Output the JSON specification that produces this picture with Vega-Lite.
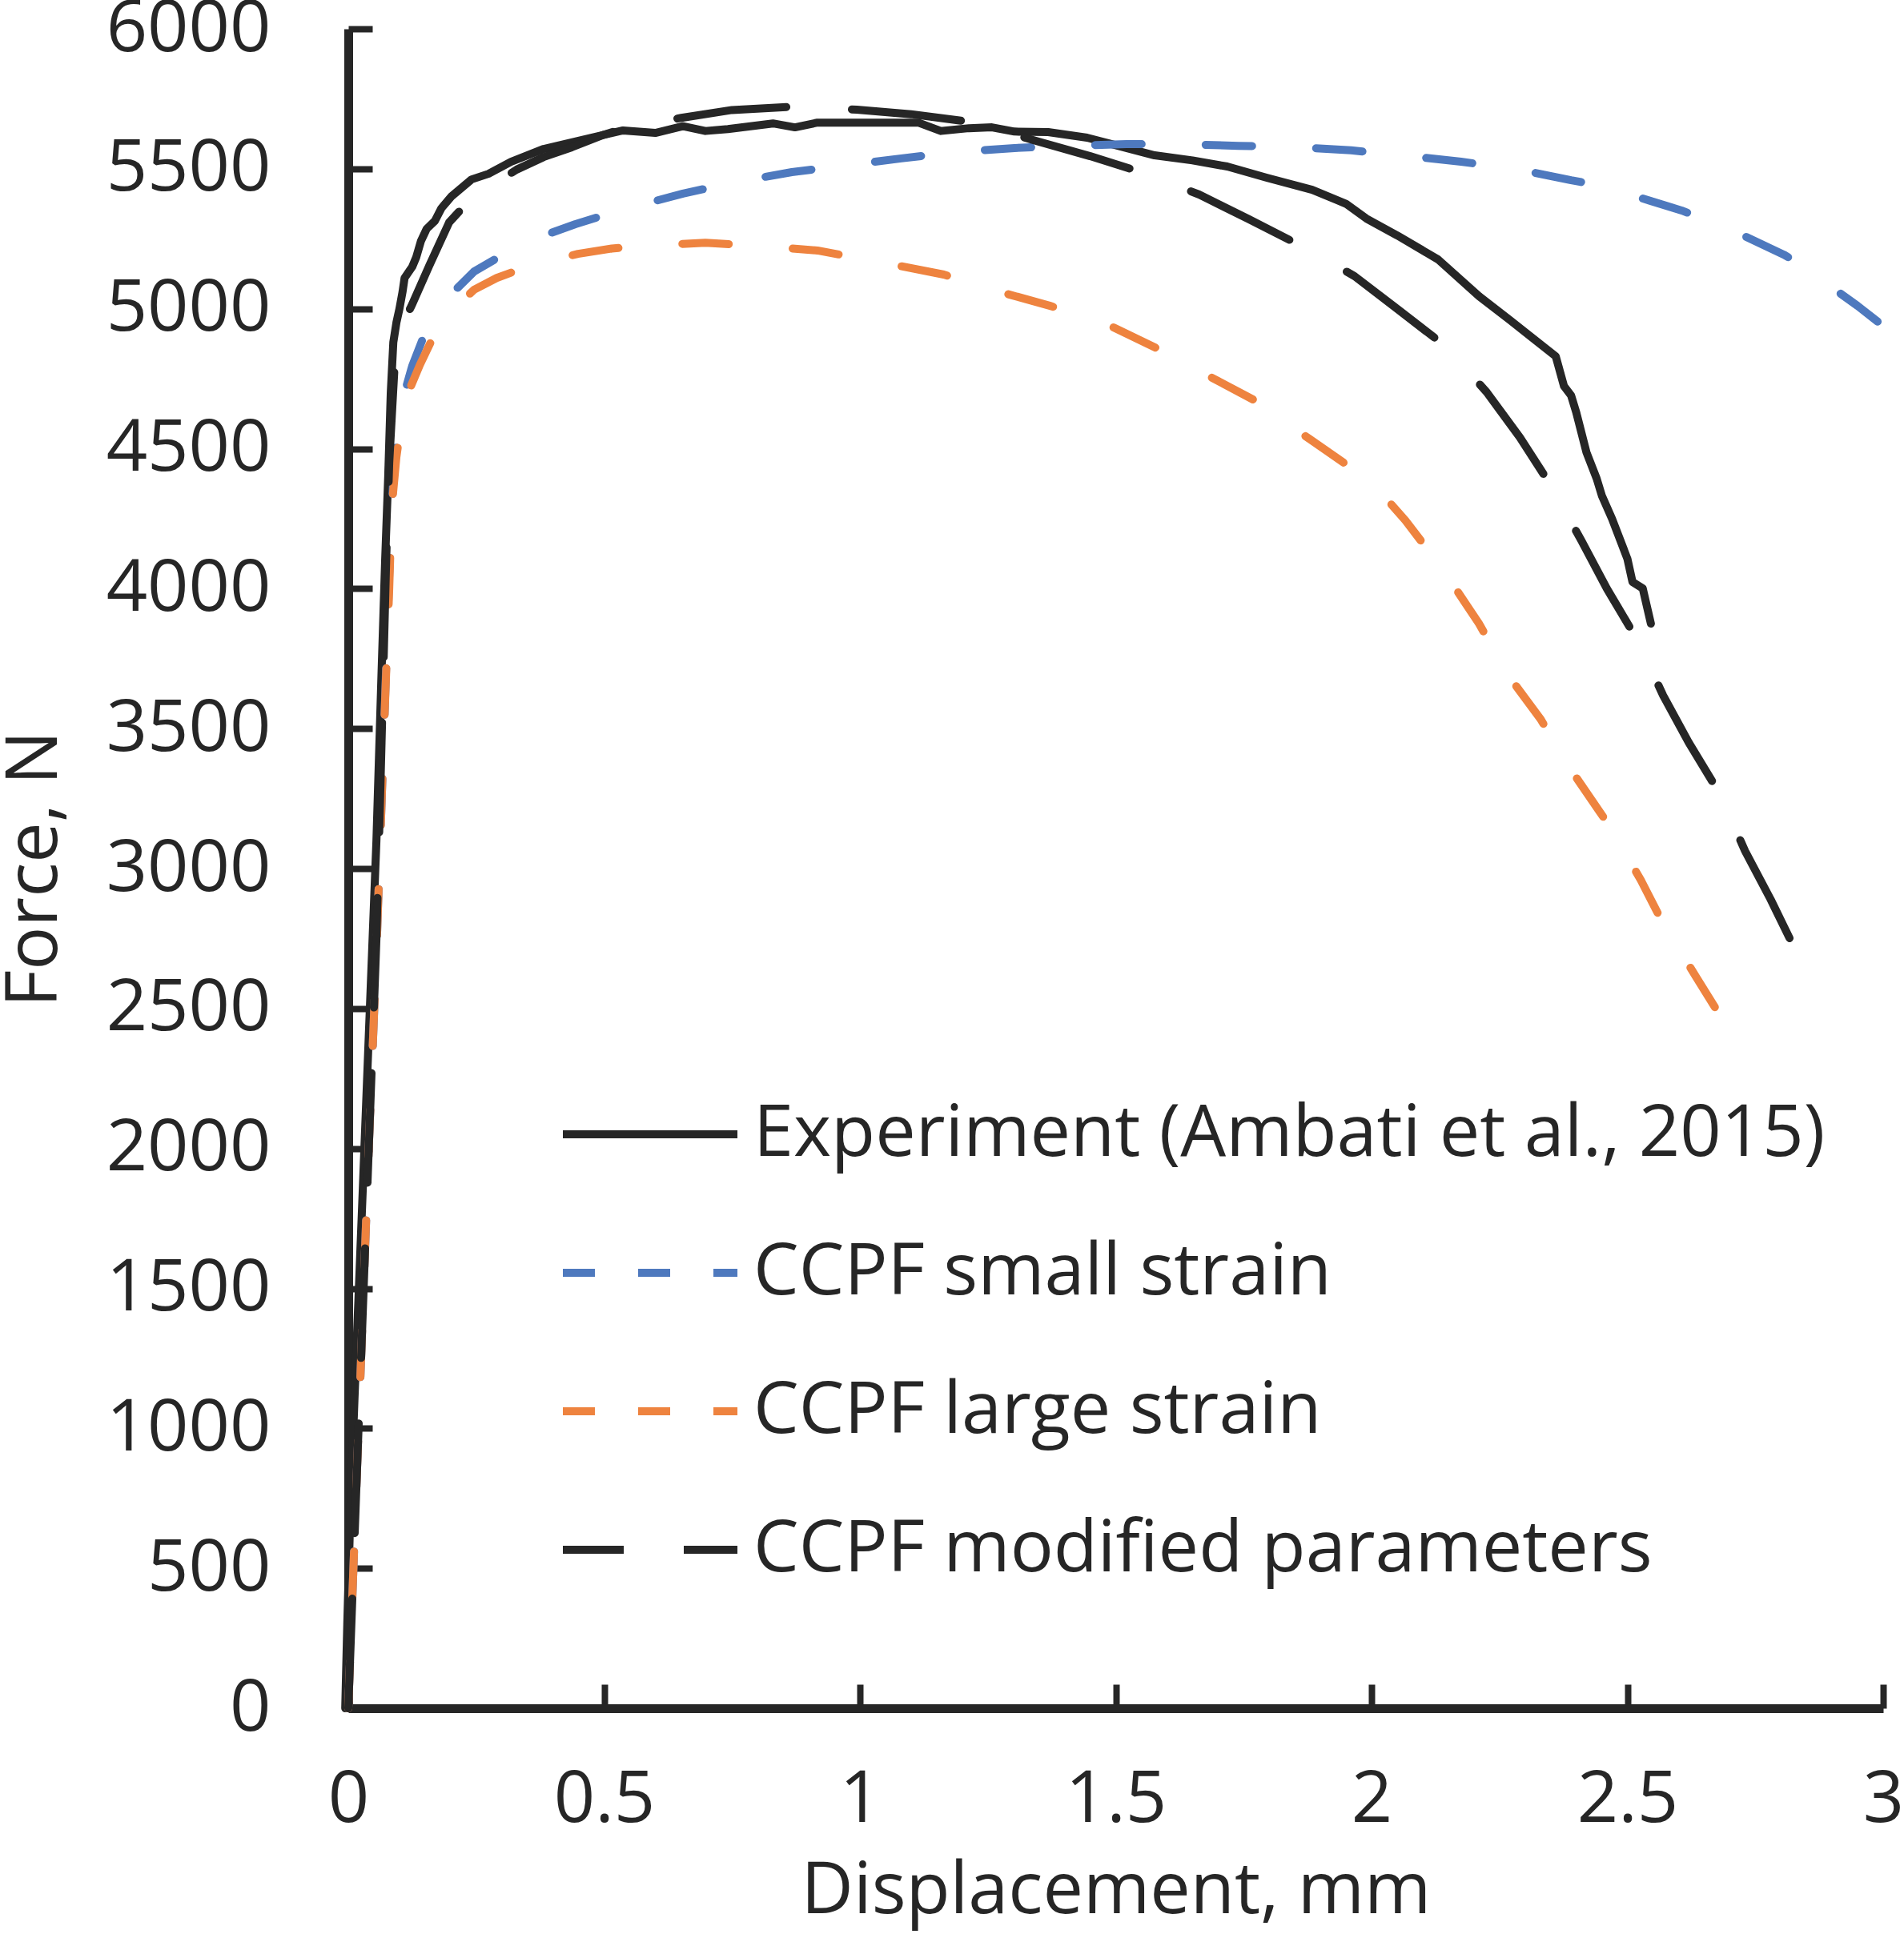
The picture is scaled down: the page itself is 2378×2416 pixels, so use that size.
{
  "$schema": "https://vega.github.io/schema/vega-lite/v6.json",
  "autosize": {"type": "none"},
  "padding": {"left": 435, "top": 36, "right": 26, "bottom": 282},
  "width": 1917,
  "height": 2098,
  "background": "white",
  "config": {
    "font": "Open Sans",
    "view": {"stroke": null},
    "line": {"strokeWidth": 10, "strokeCap": "round", "strokeJoin": "round", "clip": false},
    "axis": {
      "grid": false,
      "domainColor": "#262626",
      "domainWidth": 11,
      "tickColor": "#262626",
      "tickWidth": 8,
      "tickSize": -30,
      "labelColor": "#262626",
      "labelFontSize": 90,
      "labelFont": "Open Sans",
      "labelFlush": false,
      "labelOverlap": false,
      "labelLimit": 1000,
      "titleColor": "#262626",
      "titleFontSize": 90,
      "titleFont": "Open Sans",
      "titleFontWeight": "normal"
    },
    "legend": {
      "orient": "none",
      "legendX": 263,
      "legendY": 1331,
      "padding": 0,
      "symbolType": "stroke",
      "symbolSize": 47524,
      "symbolStrokeWidth": 10,
      "labelFontSize": 90,
      "labelFont": "Open Sans",
      "labelColor": "#262626",
      "labelOffset": 15,
      "labelLimit": 2000,
      "rowPadding": 73,
      "clipHeight": 100
    }
  },
  "data": {
    "values": [
      {"s": "Experiment (Ambati et al., 2015)", "d": -0.006, "F": 0},
      {"s": "Experiment (Ambati et al., 2015)", "d": -0.002, "F": 300},
      {"s": "Experiment (Ambati et al., 2015)", "d": 0.004, "F": 700},
      {"s": "Experiment (Ambati et al., 2015)", "d": 0.012, "F": 1100},
      {"s": "Experiment (Ambati et al., 2015)", "d": 0.025, "F": 1700},
      {"s": "Experiment (Ambati et al., 2015)", "d": 0.04, "F": 2400},
      {"s": "Experiment (Ambati et al., 2015)", "d": 0.055, "F": 3100},
      {"s": "Experiment (Ambati et al., 2015)", "d": 0.065, "F": 3700},
      {"s": "Experiment (Ambati et al., 2015)", "d": 0.072, "F": 4100},
      {"s": "Experiment (Ambati et al., 2015)", "d": 0.078, "F": 4400},
      {"s": "Experiment (Ambati et al., 2015)", "d": 0.083, "F": 4700},
      {"s": "Experiment (Ambati et al., 2015)", "d": 0.088, "F": 4880},
      {"s": "Experiment (Ambati et al., 2015)", "d": 0.094, "F": 4950},
      {"s": "Experiment (Ambati et al., 2015)", "d": 0.1, "F": 5000},
      {"s": "Experiment (Ambati et al., 2015)", "d": 0.106, "F": 5060},
      {"s": "Experiment (Ambati et al., 2015)", "d": 0.11, "F": 5110},
      {"s": "Experiment (Ambati et al., 2015)", "d": 0.125, "F": 5150},
      {"s": "Experiment (Ambati et al., 2015)", "d": 0.133, "F": 5185},
      {"s": "Experiment (Ambati et al., 2015)", "d": 0.142, "F": 5242},
      {"s": "Experiment (Ambati et al., 2015)", "d": 0.153, "F": 5285},
      {"s": "Experiment (Ambati et al., 2015)", "d": 0.169, "F": 5313},
      {"s": "Experiment (Ambati et al., 2015)", "d": 0.182, "F": 5359},
      {"s": "Experiment (Ambati et al., 2015)", "d": 0.202, "F": 5402},
      {"s": "Experiment (Ambati et al., 2015)", "d": 0.241, "F": 5462},
      {"s": "Experiment (Ambati et al., 2015)", "d": 0.274, "F": 5482},
      {"s": "Experiment (Ambati et al., 2015)", "d": 0.318, "F": 5525},
      {"s": "Experiment (Ambati et al., 2015)", "d": 0.382, "F": 5571},
      {"s": "Experiment (Ambati et al., 2015)", "d": 0.45, "F": 5600},
      {"s": "Experiment (Ambati et al., 2015)", "d": 0.537, "F": 5637},
      {"s": "Experiment (Ambati et al., 2015)", "d": 0.6, "F": 5628},
      {"s": "Experiment (Ambati et al., 2015)", "d": 0.654, "F": 5652},
      {"s": "Experiment (Ambati et al., 2015)", "d": 0.698, "F": 5635},
      {"s": "Experiment (Ambati et al., 2015)", "d": 0.742, "F": 5642},
      {"s": "Experiment (Ambati et al., 2015)", "d": 0.83, "F": 5662},
      {"s": "Experiment (Ambati et al., 2015)", "d": 0.873, "F": 5648},
      {"s": "Experiment (Ambati et al., 2015)", "d": 0.917, "F": 5665},
      {"s": "Experiment (Ambati et al., 2015)", "d": 1.114, "F": 5665},
      {"s": "Experiment (Ambati et al., 2015)", "d": 1.158, "F": 5635},
      {"s": "Experiment (Ambati et al., 2015)", "d": 1.213, "F": 5645},
      {"s": "Experiment (Ambati et al., 2015)", "d": 1.258, "F": 5648},
      {"s": "Experiment (Ambati et al., 2015)", "d": 1.302, "F": 5633},
      {"s": "Experiment (Ambati et al., 2015)", "d": 1.368, "F": 5631},
      {"s": "Experiment (Ambati et al., 2015)", "d": 1.444, "F": 5611},
      {"s": "Experiment (Ambati et al., 2015)", "d": 1.488, "F": 5590},
      {"s": "Experiment (Ambati et al., 2015)", "d": 1.576, "F": 5548},
      {"s": "Experiment (Ambati et al., 2015)", "d": 1.65, "F": 5530},
      {"s": "Experiment (Ambati et al., 2015)", "d": 1.718, "F": 5508},
      {"s": "Experiment (Ambati et al., 2015)", "d": 1.795, "F": 5468},
      {"s": "Experiment (Ambati et al., 2015)", "d": 1.884, "F": 5425},
      {"s": "Experiment (Ambati et al., 2015)", "d": 1.95, "F": 5375},
      {"s": "Experiment (Ambati et al., 2015)", "d": 1.99, "F": 5322},
      {"s": "Experiment (Ambati et al., 2015)", "d": 2.05, "F": 5262},
      {"s": "Experiment (Ambati et al., 2015)", "d": 2.13, "F": 5176},
      {"s": "Experiment (Ambati et al., 2015)", "d": 2.21, "F": 5045},
      {"s": "Experiment (Ambati et al., 2015)", "d": 2.27, "F": 4960},
      {"s": "Experiment (Ambati et al., 2015)", "d": 2.31, "F": 4902},
      {"s": "Experiment (Ambati et al., 2015)", "d": 2.36, "F": 4830},
      {"s": "Experiment (Ambati et al., 2015)", "d": 2.376, "F": 4724},
      {"s": "Experiment (Ambati et al., 2015)", "d": 2.39, "F": 4690},
      {"s": "Experiment (Ambati et al., 2015)", "d": 2.4, "F": 4630},
      {"s": "Experiment (Ambati et al., 2015)", "d": 2.42, "F": 4487},
      {"s": "Experiment (Ambati et al., 2015)", "d": 2.44, "F": 4393},
      {"s": "Experiment (Ambati et al., 2015)", "d": 2.45, "F": 4333},
      {"s": "Experiment (Ambati et al., 2015)", "d": 2.47, "F": 4250},
      {"s": "Experiment (Ambati et al., 2015)", "d": 2.5, "F": 4107},
      {"s": "Experiment (Ambati et al., 2015)", "d": 2.51, "F": 4024},
      {"s": "Experiment (Ambati et al., 2015)", "d": 2.53, "F": 4001},
      {"s": "Experiment (Ambati et al., 2015)", "d": 2.546, "F": 3875},

      {"s": "CCPF small strain", "d": 0, "F": 0},
      {"s": "CCPF small strain", "d": 0.02, "F": 1000},
      {"s": "CCPF small strain", "d": 0.04, "F": 2000},
      {"s": "CCPF small strain", "d": 0.055, "F": 2700},
      {"s": "CCPF small strain", "d": 0.07, "F": 3500},
      {"s": "CCPF small strain", "d": 0.08, "F": 4050},
      {"s": "CCPF small strain", "d": 0.088, "F": 4400},
      {"s": "CCPF small strain", "d": 0.097, "F": 4579},
      {"s": "CCPF small strain", "d": 0.11, "F": 4700},
      {"s": "CCPF small strain", "d": 0.125, "F": 4796},
      {"s": "CCPF small strain", "d": 0.145, "F": 4890},
      {"s": "CCPF small strain", "d": 0.169, "F": 4959},
      {"s": "CCPF small strain", "d": 0.2, "F": 5050},
      {"s": "CCPF small strain", "d": 0.246, "F": 5133},
      {"s": "CCPF small strain", "d": 0.29, "F": 5180},
      {"s": "CCPF small strain", "d": 0.329, "F": 5216},
      {"s": "CCPF small strain", "d": 0.38, "F": 5260},
      {"s": "CCPF small strain", "d": 0.444, "F": 5302},
      {"s": "CCPF small strain", "d": 0.537, "F": 5355},
      {"s": "CCPF small strain", "d": 0.654, "F": 5411},
      {"s": "CCPF small strain", "d": 0.753, "F": 5451},
      {"s": "CCPF small strain", "d": 0.867, "F": 5488},
      {"s": "CCPF small strain", "d": 0.967, "F": 5511},
      {"s": "CCPF small strain", "d": 1.081, "F": 5537},
      {"s": "CCPF small strain", "d": 1.186, "F": 5560},
      {"s": "CCPF small strain", "d": 1.302, "F": 5574},
      {"s": "CCPF small strain", "d": 1.405, "F": 5582},
      {"s": "CCPF small strain", "d": 1.521, "F": 5588},
      {"s": "CCPF small strain", "d": 1.626, "F": 5588},
      {"s": "CCPF small strain", "d": 1.74, "F": 5582},
      {"s": "CCPF small strain", "d": 1.845, "F": 5578},
      {"s": "CCPF small strain", "d": 1.96, "F": 5566},
      {"s": "CCPF small strain", "d": 2.06, "F": 5548},
      {"s": "CCPF small strain", "d": 2.175, "F": 5525},
      {"s": "CCPF small strain", "d": 2.28, "F": 5500},
      {"s": "CCPF small strain", "d": 2.39, "F": 5459},
      {"s": "CCPF small strain", "d": 2.449, "F": 5440},
      {"s": "CCPF small strain", "d": 2.49, "F": 5416},
      {"s": "CCPF small strain", "d": 2.606, "F": 5351},
      {"s": "CCPF small strain", "d": 2.696, "F": 5288},
      {"s": "CCPF small strain", "d": 2.806, "F": 5193},
      {"s": "CCPF small strain", "d": 2.851, "F": 5145},
      {"s": "CCPF small strain", "d": 2.887, "F": 5093},
      {"s": "CCPF small strain", "d": 2.95, "F": 5010},
      {"s": "CCPF small strain", "d": 2.992, "F": 4950},

      {"s": "CCPF large strain", "d": 0, "F": 0},
      {"s": "CCPF large strain", "d": 0.02, "F": 1000},
      {"s": "CCPF large strain", "d": 0.04, "F": 2000},
      {"s": "CCPF large strain", "d": 0.055, "F": 2700},
      {"s": "CCPF large strain", "d": 0.07, "F": 3500},
      {"s": "CCPF large strain", "d": 0.08, "F": 4000},
      {"s": "CCPF large strain", "d": 0.085, "F": 4293},
      {"s": "CCPF large strain", "d": 0.094, "F": 4470},
      {"s": "CCPF large strain", "d": 0.104, "F": 4600},
      {"s": "CCPF large strain", "d": 0.114, "F": 4687},
      {"s": "CCPF large strain", "d": 0.14, "F": 4800},
      {"s": "CCPF large strain", "d": 0.166, "F": 4899},
      {"s": "CCPF large strain", "d": 0.2, "F": 4990},
      {"s": "CCPF large strain", "d": 0.246, "F": 5068},
      {"s": "CCPF large strain", "d": 0.29, "F": 5110},
      {"s": "CCPF large strain", "d": 0.333, "F": 5139},
      {"s": "CCPF large strain", "d": 0.39, "F": 5170},
      {"s": "CCPF large strain", "d": 0.449, "F": 5196},
      {"s": "CCPF large strain", "d": 0.515, "F": 5215},
      {"s": "CCPF large strain", "d": 0.582, "F": 5225},
      {"s": "CCPF large strain", "d": 0.698, "F": 5236},
      {"s": "CCPF large strain", "d": 0.797, "F": 5225},
      {"s": "CCPF large strain", "d": 0.917, "F": 5208},
      {"s": "CCPF large strain", "d": 1.044, "F": 5165},
      {"s": "CCPF large strain", "d": 1.164, "F": 5122},
      {"s": "CCPF large strain", "d": 1.258, "F": 5068},
      {"s": "CCPF large strain", "d": 1.372, "F": 5010},
      {"s": "CCPF large strain", "d": 1.466, "F": 4959},
      {"s": "CCPF large strain", "d": 1.58, "F": 4859},
      {"s": "CCPF large strain", "d": 1.67, "F": 4771},
      {"s": "CCPF large strain", "d": 1.77, "F": 4674},
      {"s": "CCPF large strain", "d": 1.88, "F": 4533},
      {"s": "CCPF large strain", "d": 2.0, "F": 4381},
      {"s": "CCPF large strain", "d": 2.066, "F": 4244},
      {"s": "CCPF large strain", "d": 2.14, "F": 4067},
      {"s": "CCPF large strain", "d": 2.21, "F": 3875},
      {"s": "CCPF large strain", "d": 2.27, "F": 3683},
      {"s": "CCPF large strain", "d": 2.33, "F": 3535},
      {"s": "CCPF large strain", "d": 2.39, "F": 3352},
      {"s": "CCPF large strain", "d": 2.465, "F": 3152},
      {"s": "CCPF large strain", "d": 2.526, "F": 2960},
      {"s": "CCPF large strain", "d": 2.57, "F": 2803},
      {"s": "CCPF large strain", "d": 2.635, "F": 2611},
      {"s": "CCPF large strain", "d": 2.7, "F": 2419},

      {"s": "CCPF modified parameters", "d": 0, "F": 0},
      {"s": "CCPF modified parameters", "d": 0.02, "F": 1000},
      {"s": "CCPF modified parameters", "d": 0.04, "F": 2000},
      {"s": "CCPF modified parameters", "d": 0.055, "F": 2750},
      {"s": "CCPF modified parameters", "d": 0.065, "F": 3450},
      {"s": "CCPF modified parameters", "d": 0.074, "F": 4100},
      {"s": "CCPF modified parameters", "d": 0.08, "F": 4450},
      {"s": "CCPF modified parameters", "d": 0.09, "F": 4780},
      {"s": "CCPF modified parameters", "d": 0.1, "F": 4900},
      {"s": "CCPF modified parameters", "d": 0.11, "F": 4960},
      {"s": "CCPF modified parameters", "d": 0.125, "F": 5016},
      {"s": "CCPF modified parameters", "d": 0.158, "F": 5153},
      {"s": "CCPF modified parameters", "d": 0.197, "F": 5308},
      {"s": "CCPF modified parameters", "d": 0.23, "F": 5374},
      {"s": "CCPF modified parameters", "d": 0.28, "F": 5440},
      {"s": "CCPF modified parameters", "d": 0.329, "F": 5497},
      {"s": "CCPF modified parameters", "d": 0.382, "F": 5542},
      {"s": "CCPF modified parameters", "d": 0.437, "F": 5577},
      {"s": "CCPF modified parameters", "d": 0.5, "F": 5622},
      {"s": "CCPF modified parameters", "d": 0.537, "F": 5643},
      {"s": "CCPF modified parameters", "d": 0.651, "F": 5682},
      {"s": "CCPF modified parameters", "d": 0.75, "F": 5710},
      {"s": "CCPF modified parameters", "d": 0.883, "F": 5723},
      {"s": "CCPF modified parameters", "d": 0.994, "F": 5711},
      {"s": "CCPF modified parameters", "d": 1.1, "F": 5695},
      {"s": "CCPF modified parameters", "d": 1.225, "F": 5665},
      {"s": "CCPF modified parameters", "d": 1.34, "F": 5602},
      {"s": "CCPF modified parameters", "d": 1.45, "F": 5545},
      {"s": "CCPF modified parameters", "d": 1.55, "F": 5488},
      {"s": "CCPF modified parameters", "d": 1.663, "F": 5408},
      {"s": "CCPF modified parameters", "d": 1.76, "F": 5320},
      {"s": "CCPF modified parameters", "d": 1.862, "F": 5225},
      {"s": "CCPF modified parameters", "d": 1.967, "F": 5116},
      {"s": "CCPF modified parameters", "d": 2.05, "F": 5000},
      {"s": "CCPF modified parameters", "d": 2.144, "F": 4867},
      {"s": "CCPF modified parameters", "d": 2.225, "F": 4702},
      {"s": "CCPF modified parameters", "d": 2.29, "F": 4540},
      {"s": "CCPF modified parameters", "d": 2.35, "F": 4370},
      {"s": "CCPF modified parameters", "d": 2.41, "F": 4172},
      {"s": "CCPF modified parameters", "d": 2.46, "F": 4000},
      {"s": "CCPF modified parameters", "d": 2.52, "F": 3815},
      {"s": "CCPF modified parameters", "d": 2.57, "F": 3618},
      {"s": "CCPF modified parameters", "d": 2.62, "F": 3450},
      {"s": "CCPF modified parameters", "d": 2.68, "F": 3269},
      {"s": "CCPF modified parameters", "d": 2.73, "F": 3063},
      {"s": "CCPF modified parameters", "d": 2.78, "F": 2890},
      {"s": "CCPF modified parameters", "d": 2.82, "F": 2740},
      {"s": "CCPF modified parameters", "d": 2.83, "F": 2711}
    ]
  },
  "encoding": {
    "x": {
      "field": "d",
      "type": "quantitative",
      "scale": {"domain": [0, 3], "nice": false, "zero": false},
      "axis": {
        "title": "Displacement, mm",
        "format": "~g",
        "values": [0, 0.5, 1, 1.5, 2, 2.5, 3],
        "labelPadding": 100,
        "titleBaseline": "alphabetic",
        "titleY": 255
      }
    },
    "y": {
      "field": "F",
      "type": "quantitative",
      "scale": {"domain": [0, 6000], "nice": false},
      "axis": {
        "title": "Force, N",
        "format": "d",
        "values": [0, 500, 1000, 1500, 2000, 2500, 3000, 3500, 4000, 4500, 5000, 5500, 6000],
        "labelPadding": 127,
        "titleBaseline": "middle",
        "titleX": -392
      }
    },
    "color": {
      "field": "s",
      "type": "nominal",
      "title": null,
      "scale": {
        "domain": ["Experiment (Ambati et al., 2015)", "CCPF small strain", "CCPF large strain", "CCPF modified parameters"],
        "range": ["#262626", "#4E79BE", "#EE833F", "#262626"]
      }
    }
  },
  "layer": [
    {
      "transform": [{"filter": "datum.s === 'Experiment (Ambati et al., 2015)'"}],
      "mark": {"type": "line"}
    },
    {
      "transform": [{"filter": "datum.s === 'CCPF small strain'"}],
      "mark": {"type": "line", "strokeDash": [58, 80]}
    },
    {
      "transform": [{"filter": "datum.s === 'CCPF large strain'"}],
      "mark": {"type": "line", "strokeDash": [58, 80]}
    },
    {
      "transform": [{"filter": "datum.s === 'CCPF modified parameters'"}],
      "mark": {"type": "line", "strokeDash": [137, 82]}
    },
    {
      "transform": [{"filter": "false"}],
      "mark": {"type": "line"},
      "encoding": {
        "strokeDash": {
          "field": "s",
          "type": "nominal",
          "title": null,
          "scale": {
            "domain": ["Experiment (Ambati et al., 2015)", "CCPF small strain", "CCPF large strain", "CCPF modified parameters"],
            "range": [[1, 0], [40, 54], [40, 54], [76, 75]]
          }
        }
      }
    }
  ]
}
